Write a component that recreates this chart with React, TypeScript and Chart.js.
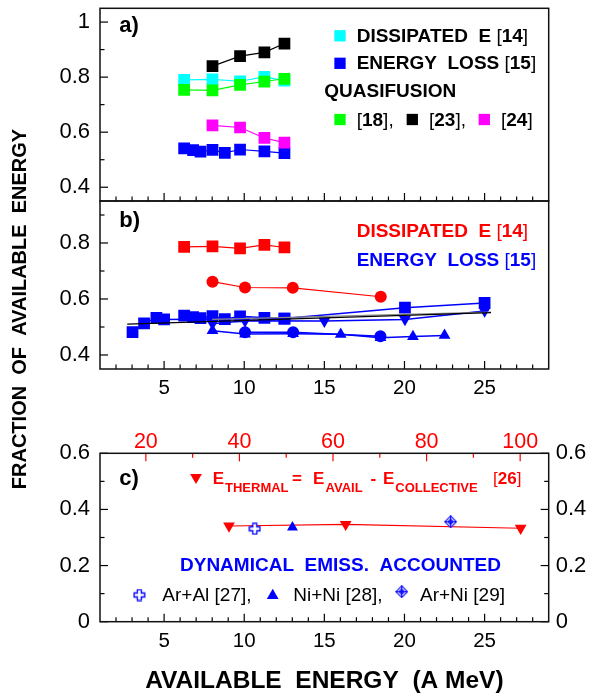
import React, { useEffect, useRef } from 'react';
import { Chart, registerables } from 'chart.js';

Chart.register(...registerables);

const FONT = '"Liberation Sans", Arial, Helvetica, sans-serif';
const W = 589;
const H = 696;

// ---------- tick values ----------
const xMajorTicks = [5, 10, 15, 20, 25];
const xMinorTicks = [2, 3, 4, 6, 7, 8, 9, 11, 12, 13, 14, 16, 17, 18, 19, 21, 22, 23, 24, 26, 27, 28];
const topMajorTicks = [20, 40, 60, 80, 100];
const topMinorTicks = [30, 50, 70, 90];
const yMajorA = [0.4, 0.6, 0.8, 1];
const yMinorA = [0.5, 0.7, 0.9];
const yMajorB = [0.4, 0.6, 0.8];
const yMinorB = [0.5, 0.7, 0.9];
const yMajorC = [0, 0.2, 0.4, 0.6];
const yMinorC = [0.1, 0.3, 0.5];

// ---------- panel a ----------
const xDiss = [6.25, 8.02, 9.74, 11.26, 12.51];
const yDissA = [0.79, 0.792, 0.785, 0.801, 0.787];
const xLoss = [6.25, 6.81, 7.27, 8.02, 8.79, 9.74, 11.26, 12.51];
const yLossA = [0.541, 0.535, 0.529, 0.536, 0.525, 0.537, 0.53, 0.524];
const xQf18 = [6.25, 8.02, 9.74, 11.26, 12.51];
const yQf18 = [0.754, 0.752, 0.772, 0.784, 0.794];
const xQf23 = [8.02, 9.74, 11.26, 12.51];
const yQf23 = [0.84, 0.876, 0.89, 0.922];
const xQf24 = [8.02, 9.74, 11.26, 12.51];
const yQf24 = [0.625, 0.617, 0.579, 0.562];

// ---------- panel b ----------
const yDissB = [0.786, 0.788, 0.781, 0.793, 0.784];
const xRedCirc = [8.02, 10.05, 13.03, 18.52];
const yRedCirc = [0.662, 0.641, 0.64, 0.608];
const yLossB = [0.541, 0.535, 0.532, 0.539, 0.528, 0.538, 0.533, 0.53];
const xSqB = [3.03, 3.75, 4.52, 5.0, 12.51, 20.03, 25.0];
const ySqB = [0.482, 0.513, 0.533, 0.527, 0.53, 0.569, 0.586];
const xTriDn = [8.02, 10.05, 15.0, 20.03, 25.0];
const yTriDn = [0.512, 0.522, 0.521, 0.527, 0.557];
const xBlueCirc = [10.05, 13.05, 18.5];
const yBlueCirc = [0.481, 0.481, 0.467];
const xTriUp = [8.02, 10.05, 13.05, 16.02, 18.5, 20.53, 22.5];
const yTriUp = [0.487, 0.475, 0.476, 0.474, 0.462, 0.466, 0.47];
const xFit = [2.7, 25.4];
const yFit = [0.51, 0.551];
const xFit2 = [8.0, 25.4];
const yFit2 = [0.527, 0.553];

// ---------- panel c ----------
const xTherm = [9.05, 16.33, 27.25];
const yTherm = [0.341, 0.347, 0.333];
const xArAl = [10.66];
const yArAl = [0.331];
const xNiNi = [13.01];
const yNiNi = [0.336];
const xArNi = [22.88];
const yArNi = [0.356];

const CYAN = '#00ffff';
const BLUE = '#0000ff';
const GREEN = '#00ff00';
const MAGENTA = '#ff00ff';
const RED = '#ff0000';

function pts(xs: number[], ys: number[]) {
  return xs.map((x, i) => ({ x, y: ys[i] }));
}

function ds(xs: number[], ys: number[], color: string, style: any, radius: number, extra: any = {}) {
  return {
    data: pts(xs, ys),
    showLine: true,
    borderColor: color,
    backgroundColor: color,
    borderWidth: 1.2,
    pointStyle: style,
    pointRadius: radius,
    pointBorderWidth: 0,
    pointBackgroundColor: color,
    pointBorderColor: color,
    ...extra,
  };
}

function makeCrossImg(color: string) {
  const c = document.createElement('canvas');
  c.width = 13;
  c.height = 13;
  const g = c.getContext('2d')!;
  const m = 6.5, a = 2, b = 5.3;
  g.beginPath();
  g.moveTo(m - a, m - b);
  g.lineTo(m + a, m - b);
  g.lineTo(m + a, m - a);
  g.lineTo(m + b, m - a);
  g.lineTo(m + b, m + a);
  g.lineTo(m + a, m + a);
  g.lineTo(m + a, m + b);
  g.lineTo(m - a, m + b);
  g.lineTo(m - a, m + a);
  g.lineTo(m - b, m + a);
  g.lineTo(m - b, m - a);
  g.lineTo(m - a, m - a);
  g.closePath();
  g.fillStyle = '#fff';
  g.fill();
  g.strokeStyle = color;
  g.lineWidth = 1.3;
  g.stroke();
  return c;
}

function makeDiamondImg(color: string) {
  const c = document.createElement('canvas');
  c.width = 13;
  c.height = 13;
  const g = c.getContext('2d')!;
  const m = 6.5, r = 5.8;
  g.strokeStyle = color;
  g.lineWidth = 1.1;
  g.beginPath();
  g.moveTo(m, m - r);
  g.lineTo(m + r, m);
  g.lineTo(m, m + r);
  g.lineTo(m - r, m);
  g.closePath();
  g.fillStyle = '#fff';
  g.fill();
  g.stroke();
  g.beginPath();
  g.moveTo(m, m - r);
  g.lineTo(m, m + r);
  g.moveTo(m - r, m);
  g.lineTo(m + r, m);
  g.stroke();
  g.beginPath();
  g.moveTo(m, m - 2.6);
  g.lineTo(m + 2.6, m);
  g.lineTo(m, m + 2.6);
  g.lineTo(m - 2.6, m);
  g.closePath();
  g.stroke();
  return c;
}

type TickSpec = { scale: string; edge: 'left' | 'right' | 'top' | 'bottom'; major: number[]; minor: number[]; color?: string };

function frameTicksPlugin(specs: TickSpec[]) {
  return {
    id: 'frameTicks',
    afterDatasetsDraw(chart: any) {
      const { ctx } = chart;
      const { left, right, top, bottom } = chart.chartArea;
      ctx.save();
      specs.forEach((s) => {
        const sc = chart.scales[s.scale];
        ctx.strokeStyle = s.color || '#000';
        ctx.lineWidth = 1.2;
        const draw = (v: number, len: number) => {
          const p = sc.getPixelForValue(v);
          ctx.beginPath();
          if (s.edge === 'left') { ctx.moveTo(left, p); ctx.lineTo(left + len, p); }
          if (s.edge === 'right') { ctx.moveTo(right, p); ctx.lineTo(right - len, p); }
          if (s.edge === 'bottom') { ctx.moveTo(p, bottom); ctx.lineTo(p, bottom - len); }
          if (s.edge === 'top') { ctx.moveTo(p, top); ctx.lineTo(p, top + len); }
          ctx.stroke();
        };
        s.major.forEach((v) => draw(v, 8));
        s.minor.forEach((v) => draw(v, 4.5));
      });
      ctx.strokeStyle = '#111';
      ctx.lineWidth = 1.5;
      ctx.strokeRect(left, top, right - left, bottom - top);
      ctx.restore();
    },
  };
}

type Seg = { t: string; w?: 'bold' | 'normal'; size?: number; color?: string; x?: number; dy?: number };
type TextItem = { x: number; y: number; color: string; size: number; segs: Seg[] };
type Mark = { kind: 'rect' | 'tri' | 'triDown' | 'img'; x: number; y: number; size: number; color?: string; img?: HTMLCanvasElement };

function annotPlugin(texts: TextItem[], marks: Mark[], vtitle?: { text: string; x: number; y: number; size: number }) {
  return {
    id: 'annot',
    afterDraw(chart: any) {
      const ctx: CanvasRenderingContext2D = chart.ctx;
      ctx.save();
      marks.forEach((m) => {
        ctx.fillStyle = m.color || '#000';
        if (m.kind === 'rect') {
          ctx.fillRect(m.x - m.size / 2, m.y - m.size / 2, m.size, m.size);
        } else if (m.kind === 'tri' || m.kind === 'triDown') {
          const s = m.kind === 'tri' ? 1 : -1;
          const r = m.size;
          ctx.beginPath();
          ctx.moveTo(m.x, m.y - s * r);
          ctx.lineTo(m.x + r * 0.866, m.y + s * r * 0.5);
          ctx.lineTo(m.x - r * 0.866, m.y + s * r * 0.5);
          ctx.closePath();
          ctx.fill();
        } else if (m.kind === 'img' && m.img) {
          ctx.drawImage(m.img, m.x - m.img.width / 2, m.y - m.img.height / 2);
        }
      });
      ctx.textAlign = 'left';
      ctx.textBaseline = 'alphabetic';
      texts.forEach((item) => {
        let x = item.x;
        item.segs.forEach((s) => {
          const size = s.size ?? item.size;
          ctx.font = `${s.w === 'normal' ? 'normal' : 'bold'} ${size}px ${FONT}`;
          ctx.fillStyle = s.color ?? item.color;
          if (s.x !== undefined) x = s.x;
          ctx.fillText(s.t, x, item.y + (s.dy ?? 0));
          x += ctx.measureText(s.t).width;
        });
      });
      if (vtitle) {
        ctx.translate(vtitle.x, vtitle.y);
        ctx.rotate(-Math.PI / 2);
        ctx.textAlign = 'center';
        ctx.textBaseline = 'middle';
        ctx.font = `bold ${vtitle.size}px ${FONT}`;
        ctx.fillStyle = '#000';
        ctx.fillText(vtitle.text, 0, 0);
      }
      ctx.restore();
    },
  };
}

function noPad(s: any) {
  s.paddingTop = 0;
  s.paddingBottom = 0;
  s.paddingLeft = 0;
  s.paddingRight = 0;
}

function yAxis(min: number, max: number, major: number[], position: 'left' | 'right', width: number, size: number, padding: number) {
  return {
    type: 'linear',
    position,
    min,
    max,
    grid: { display: false, drawTicks: false },
    border: { display: false },
    afterBuildTicks: (s: any) => { s.ticks = major.map((v) => ({ value: v })); },
    afterFit: (s: any) => { s.width = width; noPad(s); },
    ticks: { padding, color: '#000', font: { size, family: FONT }, callback: (v: any) => String(v) },
  };
}

function xAxis(min: number, max: number, major: number[], position: 'top' | 'bottom', height: number, showLabels: boolean, color: string, size: number, padding: number, title?: any) {
  return {
    type: 'linear',
    position,
    min,
    max,
    grid: { display: false, drawTicks: false },
    border: { display: false },
    afterBuildTicks: (s: any) => { s.ticks = major.map((v) => ({ value: v })); },
    afterFit: (s: any) => { s.height = height; noPad(s); },
    ticks: { display: showLabels, padding, color, maxRotation: 0, font: { size, family: FONT }, callback: (v: any) => String(v) },
    title: title || { display: false },
  };
}

function baseOptions(padding: any, scales: any) {
  return {
    responsive: false,
    maintainAspectRatio: false,
    animation: false,
    devicePixelRatio: 1,
    events: [],
    layout: { padding },
    plugins: { legend: { display: false }, tooltip: { enabled: false }, title: { display: false } },
    scales,
  };
}

const X_MIN = 1;
const X_MAX = 29;
const PLOT_RIGHT_PAD = W - 548.7;

function legendLine(x: number, y: number, color: string, main: string, num: string, size: number): TextItem {
  return {
    x, y, color, size,
    segs: [{ t: main }, { t: '[', w: 'normal' }, { t: num }, { t: ']', w: 'normal' }],
  };
}

export default function App() {
  const refA = useRef<HTMLCanvasElement>(null);
  const refB = useRef<HTMLCanvasElement>(null);
  const refC = useRef<HTMLCanvasElement>(null);

  useEffect(() => {
    Chart.defaults.font.family = FONT;
    Chart.defaults.color = '#000';
    const charts: Chart[] = [];
    const SQ = 8.3;

    // ---------- panel a ----------
    const chartA = new Chart(refA.current!, {
      type: 'scatter',
      data: {
        datasets: [
          ds(xQf18, yQf18, GREEN, 'rect', SQ),
          ds(xQf23, yQf23, '#000', 'rect', SQ),
          ds(xQf24, yQf24, MAGENTA, 'rect', SQ),
          ds(xLoss, yLossA, BLUE, 'rect', SQ),
          ds(xDiss, yDissA, CYAN, 'rect', SQ),
        ] as any,
      },
      options: baseOptions({ left: 0, top: 4.5, right: PLOT_RIGHT_PAD, bottom: H - 201 }, {
        x: xAxis(X_MIN, X_MAX, xMajorTicks, 'bottom', 0, false, '#000', 20.5, 0),
        y: yAxis(0.35, 1.05, yMajorA, 'left', 100, 22, 10),
      }) as any,
      plugins: [
        frameTicksPlugin([
          { scale: 'y', edge: 'left', major: yMajorA, minor: yMinorA },
          { scale: 'x', edge: 'bottom', major: xMajorTicks, minor: xMinorTicks },
        ]),
        annotPlugin(
          [
            { x: 119.3, y: 32.3, color: '#000', size: 22, segs: [{ t: 'a)' }] },
            legendLine(356.7, 41.7, '#000', 'DISSIPATED  E ', '14', 19),
            legendLine(356.7, 69.3, '#000', 'ENERGY  LOSS ', '15', 19),
            { x: 324.3, y: 96.7, color: '#000', size: 19, segs: [{ t: 'QUASIFUSION' }] },
            { x: 356.7, y: 126, color: '#000', size: 19, segs: [{ t: '[', w: 'normal' }, { t: '18' }, { t: '],', w: 'normal' }] },
            { x: 429, y: 126, color: '#000', size: 19, segs: [{ t: '[', w: 'normal' }, { t: '23' }, { t: '],', w: 'normal' }] },
            { x: 501, y: 126, color: '#000', size: 19, segs: [{ t: '[', w: 'normal' }, { t: '24' }, { t: ']', w: 'normal' }] },
          ],
          [
            { kind: 'rect', x: 340, y: 35.8, size: 11.3, color: CYAN },
            { kind: 'rect', x: 340, y: 63.3, size: 11.3, color: BLUE },
            { kind: 'rect', x: 340, y: 119.5, size: 11.3, color: GREEN },
            { kind: 'rect', x: 412.3, y: 119.5, size: 11.3, color: '#000' },
            { kind: 'rect', x: 484.3, y: 119.5, size: 11.3, color: MAGENTA },
          ],
        ),
      ],
    });
    charts.push(chartA);

    // ---------- panel b ----------
    const chartB = new Chart(refB.current!, {
      type: 'scatter',
      data: {
        datasets: [
          ds(xFit, yFit, '#000', 'circle', 0, { borderWidth: 1.3 }),
          ds(xFit2, yFit2, '#888', 'circle', 0, { borderWidth: 1.2 }),
          ds(xRedCirc, yRedCirc, RED, 'circle', 6),
          ds(xDiss, yDissB, RED, 'rect', SQ),
          ds(xBlueCirc, yBlueCirc, BLUE, 'circle', 6, { borderWidth: 1.5 }),
          ds(xTriUp, yTriUp, BLUE, 'triangle', 6.8, { borderWidth: 1.5 }),
          ds(xTriDn, yTriDn, BLUE, 'triangle', 6.8, { pointRotation: 180, borderWidth: 1.5 }),
          ds(xLoss, yLossB, BLUE, 'rect', SQ, { borderWidth: 1.5 }),
          ds(xSqB, ySqB, BLUE, 'rect', SQ, { borderWidth: 1.5 }),
        ] as any,
      },
      options: baseOptions({ left: 0, top: 201, right: PLOT_RIGHT_PAD, bottom: H - 369 - 40 }, {
        x: xAxis(X_MIN, X_MAX, xMajorTicks, 'bottom', 40, true, '#000', 20.5, 7),
        y: yAxis(0.35, 0.95, yMajorB, 'left', 100, 22, 10),
      }) as any,
      plugins: [
        frameTicksPlugin([
          { scale: 'y', edge: 'left', major: yMajorB, minor: yMinorB },
          { scale: 'x', edge: 'bottom', major: xMajorTicks, minor: xMinorTicks },
        ]),
        annotPlugin(
          [
            { x: 119.3, y: 226.7, color: '#000', size: 22, segs: [{ t: 'b)' }] },
            legendLine(356.7, 236.7, RED, 'DISSIPATED  E ', '14', 19),
            legendLine(356.7, 266, BLUE, 'ENERGY  LOSS ', '15', 19),
          ],
          [],
        ),
      ],
    });
    charts.push(chartB);

    // ---------- panel c ----------
    const crossImg = makeCrossImg(BLUE);
    const diamondImg = makeDiamondImg(BLUE);
    const chartC = new Chart(refC.current!, {
      type: 'scatter',
      data: {
        datasets: [
          ds(xArAl, yArAl, BLUE, crossImg, 6.5, { showLine: false }),
          ds(xArNi, yArNi, BLUE, diamondImg, 6.5, { showLine: false }),
          ds(xNiNi, yNiNi, BLUE, 'triangle', 6.3, { showLine: false }),
          ds(xTherm, yTherm, RED, 'triangle', 6.8, { pointRotation: 180, xAxisID: 'x' }),
        ] as any,
      },
      options: baseOptions({ left: 0, top: 453.3 - 40, right: 0, bottom: 0 }, {
        x: xAxis(X_MIN, X_MAX, xMajorTicks, 'bottom', H - 621.7, true, '#000', 20.5, 7, {
          display: true,
          text: 'AVAILABLE  ENERGY  (A MeV)',
          color: '#000',
          font: { size: 24.5, weight: 'bold', family: FONT },
          padding: { top: 0, bottom: 0 },
        }),
        x2: xAxis(10.2, 106.1, topMajorTicks, 'top', 40, true, RED, 21.5, -2),
        y: yAxis(0, 0.6, yMajorC, 'left', 100, 22, 10),
        y2: yAxis(0, 0.6, yMajorC, 'right', PLOT_RIGHT_PAD, 22, 7),
      }) as any,
      plugins: [
        frameTicksPlugin([
          { scale: 'y', edge: 'left', major: yMajorC, minor: yMinorC },
          { scale: 'y2', edge: 'right', major: yMajorC, minor: yMinorC },
          { scale: 'x', edge: 'bottom', major: xMajorTicks, minor: xMinorTicks },
          { scale: 'x2', edge: 'top', major: topMajorTicks, minor: topMinorTicks, color: RED },
        ]),
        annotPlugin(
          [
            { x: 119.3, y: 485, color: '#000', size: 22, segs: [{ t: 'c)' }] },
            {
              x: 212.7, y: 484, color: RED, size: 17,
              segs: [
                { t: 'E' },
                { t: 'THERMAL', size: 13, x: 225, dy: 7.5 },
                { t: '=', x: 292 },
                { t: 'E', x: 313 },
                { t: 'AVAIL', size: 13, x: 325.5, dy: 7.5 },
                { t: '-', x: 370.5 },
                { t: 'E', x: 383 },
                { t: 'COLLECTIVE', size: 13, x: 395.3, dy: 7.5 },
                { t: '[', w: 'normal', x: 493 },
                { t: '26' },
                { t: ']', w: 'normal' },
              ],
            },
            { x: 180, y: 570.7, color: BLUE, size: 19, segs: [{ t: 'DYNAMICAL  EMISS.  ACCOUNTED' }] },
            { x: 162.3, y: 601, color: '#000', size: 19, segs: [{ t: 'Ar+Al [27],', w: 'normal' }] },
            { x: 293.3, y: 601, color: '#000', size: 19, segs: [{ t: 'Ni+Ni [28],', w: 'normal' }] },
            { x: 420, y: 601, color: '#000', size: 19, segs: [{ t: 'Ar+Ni [29]', w: 'normal' }] },
          ],
          [
            { kind: 'triDown', x: 196, y: 477.3, size: 6.8, color: RED },
            { kind: 'img', x: 139.3, y: 595, size: 13, img: crossImg },
            { kind: 'tri', x: 272.7, y: 595.5, size: 6.8, color: BLUE },
            { kind: 'img', x: 401.7, y: 591.7, size: 13, img: diamondImg },
          ],
          { text: 'FRACTION  OF  AVAILABLE  ENERGY', x: 20, y: 309, size: 20 },
        ),
      ],
    });
    charts.push(chartC);

    return () => { charts.forEach((c) => c.destroy()); };
  }, []);

  const cs: React.CSSProperties = { position: 'absolute', left: 0, top: 0 };
  return (
    <div style={{ position: 'absolute', left: 0, top: 0, width: W, height: H, background: '#fff' }}>
      <canvas ref={refA} width={W} height={H} style={cs} />
      <canvas ref={refB} width={W} height={H} style={cs} />
      <canvas ref={refC} width={W} height={H} style={cs} />
    </div>
  );
}
